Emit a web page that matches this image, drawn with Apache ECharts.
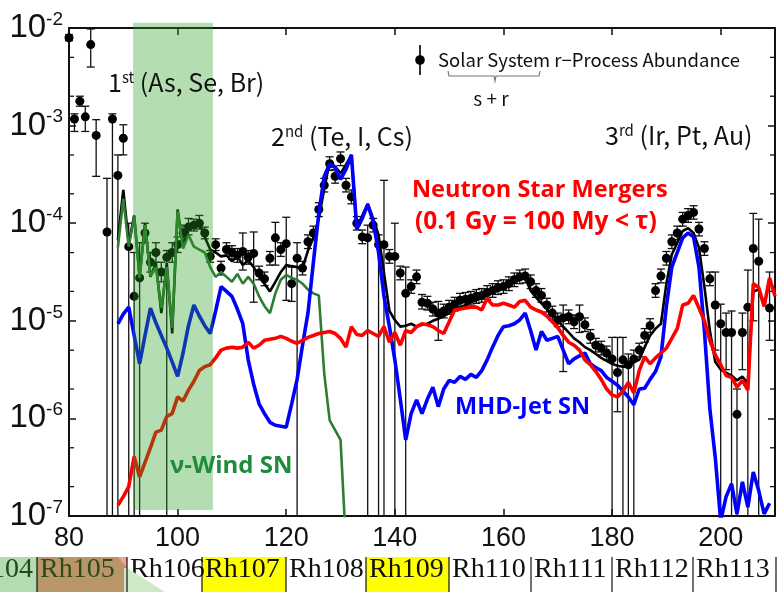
<!DOCTYPE html>
<html><head><meta charset="utf-8">
<script src="https://cdn.jsdelivr.net/npm/echarts@6/dist/echarts.min.js"></script>
<style>html,body{margin:0;padding:0;background:#fff}#c{width:779px;height:592px}</style>
</head><body><div id="c"></div><script>
// ---------- data ----------
const X_MIN = 80, X_MAX = 210, X_INTERVAL = 20;
const Y_MIN = 1e-7, Y_MAX = 1e-2;

// Solar-system r-process abundance (dots) with error-bar ranges
const solarA  = [80,81,82,83,84,85,87,88,89,90,91,92,93,94,95,96,97,98,99,100,101,102,103,104,105,106,107,108,109,110,111,112,113,114,115,116,117,118,119,120,121,122,123,124,125,126,127,128,129,130,131,132,133,134,135,136,137,138,139,140,141,142,143,144,145,146,147,148,149,150,151,152,153,154,155,156,157,158,159,160,161,162,163,164,165,166,167,168,169,170,171,172,173,174,175,176,177,178,179,180,181,182,183,184,185,186,187,188,189,190,191,192,193,194,195,196,197,198,199,200,201,202,203,204,205,206,207,209];
const solarY  = [7.94e-3,1.17e-3,1.78e-3,1.23e-3,6.76e-3,7.94e-4,8.13e-5,1.17e-3,3.09e-4,7.41e-4,5.75e-5,1.78e-5,2.75e-5,7.94e-5,3.98e-5,5.01e-5,3.16e-5,4.47e-5,5.01e-5,6.03e-5,7.94e-5,9.12e-5,9.55e-5,1.0e-4,7.94e-5,4.57e-5,6.03e-5,3.47e-5,5.37e-5,5.01e-5,4.68e-5,5.13e-5,4.47e-5,4.90e-5,3.09e-5,2.69e-5,4.37e-5,7.08e-5,5.37e-5,6.17e-5,2.40e-5,4.37e-5,3.47e-5,6.46e-5,7.94e-5,1.38e-4,2.45e-4,4.07e-4,3.02e-4,4.57e-4,2.45e-4,1.86e-4,1.0e-4,7.24e-5,7.08e-5,9.55e-5,6.03e-5,6.03e-5,4.57e-5,4.57e-5,3.09e-5,1.91e-5,2.24e-5,2.82e-5,1.55e-5,1.51e-5,1.32e-5,1.20e-5,1.26e-5,1.38e-5,1.48e-5,1.62e-5,1.66e-5,1.70e-5,1.78e-5,1.82e-5,1.95e-5,2.04e-5,2.19e-5,2.24e-5,2.40e-5,2.63e-5,2.82e-5,2.88e-5,2.51e-5,2.04e-5,1.82e-5,1.45e-5,1.20e-5,1.02e-5,1.07e-5,1.10e-5,9.77e-6,1.10e-5,9.12e-6,6.92e-6,5.62e-6,5.25e-6,4.68e-6,4.07e-6,2.95e-6,3.98e-6,3.55e-6,4.07e-6,5.01e-6,7.08e-6,8.91e-6,2.04e-5,2.88e-5,4.37e-5,6.46e-5,7.94e-5,1.10e-4,1.20e-4,1.29e-4,8.71e-5,5.50e-5,2.69e-5,1.45e-5,9.33e-6,7.59e-6,7.59e-6,1.10e-6,7.59e-6,1.38e-5,5.50e-5,4.07e-5,1.35e-5];
const solarLo = [7.41e-3,8.71e-4,1.58e-3,8.71e-4,3.98e-3,3.02e-4,1e-7,1e-7,1e-7,5.01e-4,1e-7,1e-7,1e-7,6.31e-5,3.16e-5,3.98e-5,2.51e-5,1e-7,3.98e-5,5.01e-5,6.61e-5,7.59e-5,8.32e-5,8.71e-5,6.92e-5,3.98e-5,5.25e-5,2.95e-5,4.57e-5,4.27e-5,3.98e-5,3.31e-5,3.80e-5,1.55e-5,2.63e-5,2.29e-5,3.72e-5,3.72e-5,4.57e-5,1.62e-5,1.58e-5,1e-7,2.95e-5,5.50e-5,6.76e-5,1.17e-4,2.09e-4,3.47e-4,2.57e-4,3.89e-4,2.09e-4,1.58e-4,8.51e-5,6.17e-5,1e-7,8.13e-5,1e-7,1e-7,3.89e-5,1e-7,2.63e-5,1e-7,1.91e-5,2.40e-5,1.32e-5,1.29e-5,1.12e-5,6.31e-6,1.07e-5,1.17e-5,1.26e-5,1.38e-5,1.41e-5,1.45e-5,1.51e-5,1.55e-5,1.66e-5,1.74e-5,1.86e-5,1.91e-5,2.04e-5,2.24e-5,2.40e-5,2.45e-5,2.14e-5,1.74e-5,1.55e-5,1.23e-5,1.02e-5,8.71e-6,3.02e-6,9.33e-6,8.32e-6,7.59e-6,7.76e-6,5.89e-6,4.79e-6,4.47e-6,3.98e-6,1e-7,1.17e-6,1e-7,1e-7,1e-7,4.27e-6,6.03e-6,7.59e-6,1.74e-5,2.45e-5,3.72e-5,5.50e-5,6.76e-5,9.33e-5,1.02e-4,1.10e-4,7.41e-5,4.68e-5,2.29e-5,5.01e-6,1e-7,3.16e-6,1e-7,1e-7,3.16e-6,1e-7,1.0e-5,1e-7,6.31e-6];
const solarHi = [8.51e-3,1.32e-3,2.00e-3,1.58e-3,9.77e-3,1.15e-3,2.88e-4,1.32e-3,5.01e-4,1.02e-3,1.0e-4,5.01e-5,6.31e-5,1.0e-4,5.01e-5,6.31e-5,3.98e-5,5.25e-5,6.31e-5,7.24e-5,9.55e-5,1.12e-4,1.10e-4,1.20e-4,9.12e-5,5.25e-5,6.92e-5,4.07e-5,6.31e-5,5.89e-5,5.50e-5,7.94e-5,5.25e-5,8.13e-5,3.63e-5,3.16e-5,5.13e-5,1.02e-4,6.31e-5,1.15e-4,3.55e-5,6.31e-5,4.07e-5,7.59e-5,9.33e-5,1.62e-4,2.88e-4,4.79e-4,3.55e-4,5.37e-4,2.88e-4,2.19e-4,1.17e-4,8.51e-5,9.55e-5,1.12e-4,7.59e-5,2.75e-4,5.37e-5,1.0e-4,3.63e-5,3.55e-5,2.63e-5,3.31e-5,1.86e-5,1.78e-5,1.55e-5,1.58e-5,1.48e-5,1.62e-5,1.74e-5,1.91e-5,1.95e-5,2.0e-5,2.09e-5,2.14e-5,2.29e-5,2.40e-5,2.57e-5,2.63e-5,2.82e-5,3.09e-5,3.31e-5,3.39e-5,2.95e-5,2.40e-5,2.14e-5,1.70e-5,1.41e-5,1.20e-5,1.45e-5,1.29e-5,1.15e-5,1.45e-5,1.07e-5,8.13e-6,6.61e-6,6.17e-6,5.50e-6,6.76e-6,6.76e-6,6.76e-6,4.57e-6,5.01e-6,5.89e-6,8.32e-6,1.05e-5,2.40e-5,3.39e-5,5.13e-5,7.59e-5,9.33e-5,1.29e-4,1.41e-4,1.51e-4,1.02e-4,6.46e-5,3.16e-5,3.16e-5,1.48e-5,1.2e-5,1.26e-5,2.0e-6,1.2e-5,3.31e-5,1.26e-4,1.1e-4,3.16e-5];

// Model curves [A, abundance]
const totalModel = [[89,6.76e-5],[90,2.19e-4],[91,6.17e-5],[92,1.20e-4],[93,2.82e-5],[94,1.0e-4],[95,2.82e-5],[96,3.89e-5],[97,1.20e-5],[98,3.89e-5],[99,7.41e-6],[100,1.38e-4],[101,5.75e-5],[102,9.12e-5],[103,9.12e-5],[104,1.0e-4],[105,7.24e-5],[106,5.37e-5],[107,5.01e-5],[108,4.57e-5],[109,4.68e-5],[110,4.07e-5],[111,4.57e-5],[112,3.72e-5],[113,4.17e-5],[114,3.55e-5],[115,2.82e-5],[116,2.40e-5],[117,2.0e-5],[118,2.51e-5],[119,3.16e-5],[120,3.72e-5],[121,3.63e-5],[122,3.55e-5],[123,3.47e-5],[124,5.25e-5],[125,7.08e-5],[126,1.12e-4],[127,2.24e-4],[128,4.27e-4],[129,3.80e-4],[130,3.24e-4],[131,3.98e-4],[132,5.01e-4],[133,8.91e-5],[134,1.20e-4],[135,1.58e-4],[136,1.12e-4],[137,7.59e-5],[138,3.09e-5],[139,1.26e-5],[140,1.02e-5],[141,8.71e-6],[142,8.91e-6],[143,9.33e-6],[144,8.71e-6],[145,9.12e-6],[146,9.33e-6],[147,1.0e-5],[148,1.05e-5],[149,1.12e-5],[150,1.20e-5],[151,1.32e-5],[152,1.38e-5],[153,1.45e-5],[154,1.55e-5],[155,1.62e-5],[156,1.70e-5],[157,1.82e-5],[158,1.95e-5],[159,2.04e-5],[160,2.19e-5],[161,2.34e-5],[162,2.51e-5],[163,2.63e-5],[164,2.75e-5],[165,2.04e-5],[166,1.74e-5],[167,1.51e-5],[168,1.32e-5],[169,1.15e-5],[170,1.0e-5],[171,8.71e-6],[172,7.59e-6],[173,6.61e-6],[174,6.03e-6],[175,5.37e-6],[176,5.01e-6],[177,4.57e-6],[178,4.17e-6],[179,3.89e-6],[180,3.63e-6],[181,3.47e-6],[182,3.39e-6],[183,3.39e-6],[184,3.80e-6],[185,3.98e-6],[186,5.37e-6],[187,7.08e-6],[188,8.32e-6],[189,9.33e-6],[190,2.40e-5],[191,4.79e-5],[192,6.31e-5],[193,8.32e-5],[194,8.91e-5],[195,7.94e-5],[196,5.62e-5],[197,2.24e-5],[198,7.94e-6],[199,3.80e-6],[200,3.16e-6],[201,2.95e-6],[202,2.75e-6],[203,2.45e-6],[204,2.69e-6],[205,2.29e-6],[206,2.0e-5],[207,2.09e-5],[208,1.41e-5],[209,2.63e-5]];

const windSN = [[89,5.62e-5],[90,1.78e-4],[91,5.75e-5],[92,1.17e-4],[93,2.75e-5],[94,9.55e-5],[95,2.88e-5],[96,3.55e-5],[97,1.35e-5],[98,3.55e-5],[99,8.51e-6],[100,1.32e-4],[101,5.50e-5],[102,7.59e-5],[103,5.75e-5],[104,5.37e-5],[105,5.01e-5],[106,3.55e-5],[107,2.82e-5],[108,3.16e-5],[109,2.82e-5],[110,2.51e-5],[111,3.02e-5],[112,2.40e-5],[113,2.82e-5],[114,2.40e-5],[115,1.78e-5],[116,1.41e-5],[117,1.20e-5],[118,1.91e-5],[119,2.63e-5],[120,2.95e-5],[121,2.75e-5],[122,2.63e-5],[123,2.40e-5],[124,2.09e-5],[125,1.91e-5],[126,1.82e-5],[127,2.88e-6],[128,9.55e-7],[129,7.59e-7],[130,6.03e-7],[131,5.01e-8]];

const mhdJetSN = [[89,9.33e-6],[90,1.17e-5],[91,1.38e-5],[92,7.08e-6],[93,3.63e-6],[94,7.08e-6],[95,1.35e-5],[96,9.55e-6],[97,7.08e-6],[98,5.25e-6],[99,3.80e-6],[100,2.69e-6],[101,4.68e-6],[102,8.91e-6],[103,1.45e-5],[104,1.12e-5],[105,8.91e-6],[106,7.41e-6],[107,1.26e-5],[108,2.24e-5],[109,2.0e-5],[110,1.78e-5],[111,1.32e-5],[112,9.33e-6],[113,3.98e-6],[114,2.24e-6],[115,1.41e-6],[116,1.12e-6],[117,9.12e-7],[118,8.51e-7],[119,8.32e-7],[120,8.13e-7],[121,1.41e-6],[122,2.51e-6],[123,5.62e-6],[124,1.20e-5],[125,3.98e-5],[126,1.26e-4],[127,3.02e-4],[128,4.07e-4],[129,3.72e-4],[130,2.82e-4],[131,3.55e-4],[132,5.01e-4],[133,8.71e-5],[134,1.12e-4],[135,1.55e-4],[136,1.05e-4],[137,5.01e-5],[138,1.78e-5],[139,8.71e-6],[140,3.98e-6],[141,1.58e-6],[142,6.03e-7],[143,1.12e-6],[144,1.55e-6],[145,1.12e-6],[146,1.58e-6],[147,2.09e-6],[148,1.32e-6],[149,2.0e-6],[150,2.45e-6],[151,2.34e-6],[152,2.69e-6],[153,2.51e-6],[154,2.82e-6],[155,2.63e-6],[156,3.09e-6],[157,3.98e-6],[158,5.37e-6],[159,7.08e-6],[160,8.71e-6],[161,8.91e-6],[162,9.33e-6],[163,1.02e-5],[164,1.20e-5],[165,7.94e-6],[166,5.01e-6],[167,7.76e-6],[168,6.31e-6],[169,6.61e-6],[170,6.92e-6],[171,5.01e-6],[172,3.63e-6],[173,4.07e-6],[174,4.37e-6],[175,4.68e-6],[176,3.63e-6],[177,3.31e-6],[178,3.09e-6],[179,2.63e-6],[180,2.40e-6],[181,2.19e-6],[182,1.91e-6],[183,1.66e-6],[184,1.38e-6],[185,2.0e-6],[186,2.04e-6],[187,2.51e-6],[188,3.02e-6],[189,4.27e-6],[190,1.41e-5],[191,3.55e-5],[192,5.01e-5],[193,7.08e-5],[194,7.94e-5],[195,7.24e-5],[196,3.55e-5],[197,7.94e-6],[198,1.26e-6],[199,3.98e-7],[200,8.91e-8],[201,1.58e-7],[202,2.14e-7],[203,1.05e-7],[204,2.24e-7],[205,1.23e-7],[206,2.82e-7],[207,1.82e-7],[208,1.05e-7],[209,1.35e-7]];

const nsMergers = [[89,1.29e-7],[90,1.58e-7],[91,2.0e-7],[92,4.07e-7],[93,2.51e-7],[94,3.55e-7],[95,5.01e-7],[96,7.24e-7],[97,7.59e-7],[98,1.05e-6],[99,1.12e-6],[100,1.66e-6],[101,1.51e-6],[102,1.95e-6],[103,2.40e-6],[104,3.09e-6],[105,3.39e-6],[106,3.55e-6],[107,4.17e-6],[108,5.01e-6],[109,5.25e-6],[110,5.37e-6],[111,5.25e-6],[112,5.37e-6],[113,6.03e-6],[114,5.25e-6],[115,5.62e-6],[116,6.31e-6],[117,6.46e-6],[118,6.61e-6],[119,6.92e-6],[120,6.61e-6],[121,6.17e-6],[122,5.89e-6],[123,6.31e-6],[124,6.76e-6],[125,7.08e-6],[126,7.41e-6],[127,7.59e-6],[128,7.76e-6],[129,7.41e-6],[130,6.61e-6],[131,5.37e-6],[132,8.71e-6],[133,7.24e-6],[134,7.08e-6],[135,7.94e-6],[136,7.41e-6],[137,6.92e-6],[138,8.71e-6],[139,6.03e-6],[140,7.59e-6],[141,5.62e-6],[142,7.94e-6],[143,7.59e-6],[144,8.71e-6],[145,9.33e-6],[146,9.12e-6],[147,8.71e-6],[148,7.94e-6],[149,7.41e-6],[150,9.77e-6],[151,1.29e-5],[152,1.32e-5],[153,1.35e-5],[154,1.38e-5],[155,1.38e-5],[156,1.29e-5],[157,1.70e-5],[158,1.45e-5],[159,1.45e-5],[160,1.51e-5],[161,1.45e-5],[162,1.38e-5],[163,1.58e-5],[164,1.62e-5],[165,1.38e-5],[166,1.29e-5],[167,1.23e-5],[168,1.12e-5],[169,9.77e-6],[170,8.51e-6],[171,7.08e-6],[172,6.03e-6],[173,5.62e-6],[174,5.01e-6],[175,3.98e-6],[176,3.55e-6],[177,3.02e-6],[178,2.51e-6],[179,2.0e-6],[180,1.74e-6],[181,1.66e-6],[182,1.91e-6],[183,2.34e-6],[184,1.82e-6],[185,3.09e-6],[186,4.27e-6],[187,3.63e-6],[188,4.17e-6],[189,4.68e-6],[190,5.25e-6],[191,6.61e-6],[192,8.32e-6],[193,1.45e-5],[194,1.51e-5],[195,1.82e-5],[196,1.35e-5],[197,1.0e-5],[198,6.31e-6],[199,4.47e-6],[200,3.55e-6],[201,2.75e-6],[202,2.63e-6],[203,2.09e-6],[204,2.45e-6],[205,1.95e-6],[206,2.40e-5],[207,2.19e-5],[208,1.41e-5],[209,2.75e-5],[210,1.78e-5]];

const firstPeakBand = [91.8, 106.5];      // A range of the shaded band
const firstPeakBandY = [1.15e-7, 1.13e-2];
const minorTickValues = [2e-7,5e-7,2e-6,5e-6,2e-5,5e-5,2e-4,5e-4,2e-3,5e-3];
const bottomRowLabels = ['Rh104','Rh105','Rh106','Rh107','Rh108','Rh109','Rh110','Rh111','Rh112','Rh113'];

// ---------- chart ----------
const chart = echarts.init(document.getElementById('c'), null, {renderer:'canvas'});
const AX = '#111';
const solarDots = solarA.map((a,i)=>[a, solarY[i]]);
const errData = solarA.map((a,i)=>[a, solarLo[i], solarHi[i]]);
const LBL = "'Noto Sans CJK JP','Noto Sans',sans-serif";
const BOLD = "'Open Sans','Noto Sans',sans-serif";

function axisX(pos){return {type:'value',min:X_MIN,max:X_MAX,interval:X_INTERVAL,position:pos,
  axisLine:{show:true,onZero:false,lineStyle:{color:AX,width:2}},
  axisTick:{show:true,inside:true,length:7,lineStyle:{color:AX,width:1.5}},
  axisLabel:{show:pos==='bottom',fontSize:27,color:'#111',fontFamily:"'Liberation Sans',Arial,sans-serif",margin:9,showMaxLabel:false},
  splitLine:{show:false}};}
function axisY(pos){return {type:'log',logBase:10,min:Y_MIN,max:Y_MAX,position:pos,
  axisLine:{show:true,onZero:false,lineStyle:{color:AX,width:2}},
  axisTick:{show:true,inside:true,length:7,lineStyle:{color:AX,width:1.5}},
  axisLabel:{show:pos==='left',margin:6,
    formatter:v=>'{b|10}{e|'+Math.round(Math.log10(v))+'}',
    rich:{b:{fontSize:33,fontFamily:"'Liberation Sans',Arial,sans-serif",color:'#111',lineHeight:36},
          e:{fontSize:19,fontFamily:"'Liberation Sans',Arial,sans-serif",color:'#111',verticalAlign:'top',lineHeight:22}}},
  splitLine:{show:false}};}

const supRich = {n:{fontSize:25,fontFamily:LBL,fill:'#111'},s:{fontSize:15,fontFamily:LBL,fill:'#111',verticalAlign:'top'}};

const option = {
  animation:false,
  backgroundColor:'#fff',
  grid:{left:69,right:4,top:28,bottom:76,containLabel:false},
  xAxis:[axisX('bottom'),axisX('top')],
  yAxis:[axisY('left'),axisY('right')],
  series:[
    {type:'custom',name:'minor ticks',z:1,silent:true,data:minorTickValues.map(v=>[X_MIN,v]),
     renderItem:(p,api)=>{const v=api.value(1);const l=api.coord([X_MIN,v]);const r=api.coord([X_MAX,v]);
       return {type:'group',children:[
         {type:'line',shape:{x1:l[0],y1:l[1],x2:l[0]+5,y2:l[1]},style:{stroke:AX,lineWidth:1.3}},
         {type:'line',shape:{x1:r[0],y1:r[1],x2:r[0]-5,y2:r[1]},style:{stroke:AX,lineWidth:1.3}}]};}},
    {type:'custom',name:'error bars',z:2,silent:true,data:errData,dimensions:['A','lo','hi'],encode:{x:0,y:[1,2]},
     renderItem:(p,api)=>{const a=api.value(0),lo=api.value(1),hi=api.value(2);
       const t=api.coord([a,hi]),b=api.coord([a,lo]);const w=4;const st={stroke:'#111',lineWidth:1.3};
       const ch=[{type:'line',shape:{x1:t[0],y1:t[1],x2:b[0],y2:b[1]},style:st},
                 {type:'line',shape:{x1:t[0]-w,y1:t[1],x2:t[0]+w,y2:t[1]},style:st}];
       if(lo>Y_MIN*1.01) ch.push({type:'line',shape:{x1:b[0]-w,y1:b[1],x2:b[0]+w,y2:b[1]},style:st});
       return {type:'group',children:ch};}},
    {type:'scatter',name:'Solar',z:3,data:solarDots,symbol:'circle',symbolSize:9,itemStyle:{color:'#000',opacity:1}},
    {type:'line',name:'Total',z:4,data:totalModel,symbol:'none',lineStyle:{color:'#000',width:2.6},clip:true},
    {type:'line',name:'nu-Wind SN',z:5,data:windSN,symbol:'none',lineStyle:{color:'#2e7d32',width:2.6},clip:true},
    {type:'line',name:'MHD-Jet SN',z:6,data:mhdJetSN,symbol:'none',lineStyle:{color:'#0000ff',width:3.6},clip:true},
    {type:'line',name:'NSM',z:7,data:nsMergers,symbol:'none',lineStyle:{color:'#ff0000',width:3.6},clip:true},
    {type:'custom',name:'band',z:20,silent:true,data:[[firstPeakBand[0],firstPeakBandY[0],firstPeakBand[1],firstPeakBandY[1]]],
     renderItem:(p,api)=>{const a=api.coord([api.value(0),api.value(1)]),b=api.coord([api.value(2),api.value(3)]);
       return {type:'rect',shape:{x:a[0],y:b[1],width:b[0]-a[0],height:a[1]-b[1]},style:{fill:'rgba(40,160,32,0.35)'}};}}
  ],
  graphic:[
    // peak labels
    {type:'text',z:30,x:108,y:82,style:{text:'{n|1}{s|st}{n| (As, Se, Br)}',verticalAlign:'middle',rich:supRich}},
    {type:'text',z:30,x:271,y:136,style:{text:'{n|2}{s|nd}{n| (Te, I, Cs)}',verticalAlign:'middle',rich:supRich}},
    {type:'text',z:30,x:605,y:135,style:{text:'{n|3}{s|rd}{n| (Ir, Pt, Au)}',verticalAlign:'middle',rich:supRich}},
    // legend
    {type:'line',z:30,shape:{x1:420,y1:45,x2:420,y2:75},style:{stroke:'#000',lineWidth:1.6}},
    {type:'circle',z:31,shape:{cx:420,cy:60,r:4.8},style:{fill:'#000'}},
    {type:'text',z:30,x:438,y:60,style:{text:'Solar System r\u2212Process Abundance',verticalAlign:'middle',font:"18.5px "+LBL,fill:'#111'}},
    {type:'polyline',z:30,shape:{points:[[448,71],[449,76],[494,76],[495,81],[496,76],[539,76],[540,71]]},style:{stroke:'#777',lineWidth:1.2,fill:null}},
    {type:'text',z:30,x:491,y:99,style:{text:'s + r',align:'center',verticalAlign:'middle',font:"19px "+LBL,fill:'#111'}},
    // series labels
    {type:'text',z:30,x:412,y:190,style:{text:'Neutron Star Mergers',verticalAlign:'middle',font:"bold 23.5px "+BOLD,fill:'#ff0000'}},
    {type:'text',z:30,x:415,y:222,style:{text:'(0.1 Gy = 100 My < \u03c4)',verticalAlign:'middle',font:"bold 24.5px "+BOLD,fill:'#ff0000'}},
    {type:'text',z:30,x:455,y:407,style:{text:'MHD-Jet SN',verticalAlign:'middle',font:"bold 23.5px "+BOLD,fill:'#0000ff'}},
    {type:'text',z:30,x:170,y:466,style:{text:'\u03bd-Wind SN',verticalAlign:'middle',font:"bold 24px "+BOLD,fill:'#1e8c3c'}},
    // bottom table strip (cropped neighbouring image)
    ...(()=>{const edges=[-10,37,127,202,286,366,449,531,612,693,776];
      const fills=['#b5dcb0','#b8966a','#ffffff','#ffff00','#ffffff','#ffff00','#ffffff','#ffffff','#ffffff','#ffffff'];
      const cols=['#1c4a1c','#2c4a1a','#111','#111','#111','#111','#111','#111','#111','#111'];
      const out=[];
      for(let i=0;i<bottomRowLabels.length;i++){
        out.push({type:'rect',z:5,shape:{x:edges[i],y:557,width:edges[i+1]-edges[i],height:40},style:{fill:fills[i]}});
        out.push({type:'text',z:6,x:(i===0?edges[1]-4:edges[i]+3),y:570,style:{text:bottomRowLabels[i],align:i===0?'right':'left',verticalAlign:'middle',font:"28px 'Liberation Serif','Times New Roman',serif",fill:cols[i]}});
        if(i>0) out.push({type:'line',z:7,shape:{x1:edges[i],y1:557,x2:edges[i],y2:592},style:{stroke:'#111',lineWidth:1.2}});
      }
      out.push({type:'polygon',z:6,shape:{points:[[118,557],[127,557],[127,568]]},style:{fill:'#f2a0a0'}});
      out.push({type:'polygon',z:6,shape:{points:[[124,568],[127,568],[165,592],[124,592]]},style:{fill:'#cfe8c8'}});
      out.push({type:'line',z:7,shape:{x1:776,y1:557,x2:776,y2:592},style:{stroke:'#111',lineWidth:1.2}});
      return out;})()
  ]
};
chart.setOption(option);
</script></body></html>
